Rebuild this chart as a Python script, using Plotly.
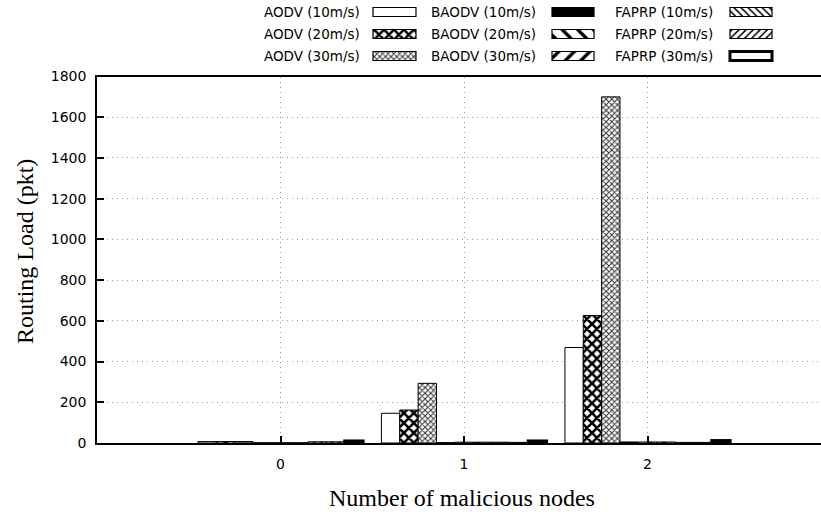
import plotly.graph_objects as go

# ---------------- data ----------------
groups = [0, 1, 2]
series_names = ["AODV (10m/s)", "AODV (20m/s)", "AODV (30m/s)",
                "BAODV (10m/s)", "BAODV (20m/s)", "BAODV (30m/s)",
                "FAPRP (10m/s)", "FAPRP (20m/s)", "FAPRP (30m/s)"]
aodv_10 = [7, 146, 469]
aodv_20 = [7, 162, 626]
aodv_30 = [7, 293, 1700]
baodv_10 = [1, 2, 5]
baodv_20 = [1, 4, 5]
baodv_30 = [1, 4, 5]
faprp_10 = [6, 4, 3]
faprp_20 = [6, 3, 3]
faprp_30 = [10, 10, 12]
series_values = [aodv_10, aodv_20, aodv_30, baodv_10, baodv_20, baodv_30,
                 faprp_10, faprp_20, faprp_30]
y_ticks = [0, 200, 400, 600, 800, 1000, 1200, 1400, 1600, 1800]
x_ticks = [0, 1, 2]

# ---------------- styles ----------------
W, H = 821, 512
ML, MB = 97, 69
PW, PH = W - ML, H - MB  # plot area (paper) in px


def px_x(px):
    return (px - ML) / PW


def px_y(py):
    return 1 - py / PH


def pat(shape="", size=8, solid=0.3, fg="black"):
    return dict(shape=shape, size=size, solidity=solid, fgcolor=fg,
                bgcolor="white", fillmode="replace")


styles = [
    dict(color="white", pattern=pat(), lw=1),
    dict(color="white", pattern=pat("x", 7, 0.6), lw=1),
    dict(color="white", pattern=pat("x", 4, 0.45, "#333333"), lw=1),
    dict(color="black", pattern=pat(), lw=1),
    dict(color="white", pattern=pat("\\", 11, 0.3), lw=1),
    dict(color="white", pattern=pat("/", 11, 0.3), lw=1),
    dict(color="white", pattern=pat("\\", 5, 0.3), lw=1),
    dict(color="white", pattern=pat("/", 5, 0.3), lw=1),
    dict(color="white", pattern=pat(), lw=3),
]

n = len(series_names)
bar_w = 0.1
fig = go.Figure()
for j, (name, vals, st) in enumerate(zip(series_names, series_values, styles)):
    fig.add_trace(go.Bar(
        x=groups, y=vals, name=name, width=bar_w,
        offset=-n * bar_w / 2 + j * bar_w,
        marker=dict(color=st["color"], pattern=st["pattern"],
                    line=dict(color="black", width=st["lw"])),
        showlegend=False, xaxis="x", yaxis="y"))

# ---------------- legend (text left, sample right, 3 columns) ----------------
col_text_right = [362, 538, 715]
col_box = [(373, 416), (552, 594), (730, 772)]
row_cy = [12, 34, 56]
box_h = 9
for j, (name, st) in enumerate(zip(series_names, styles)):
    c, r = j // 3, j % 3
    x0, x1 = col_box[c]
    cy = row_cy[r]
    fig.add_trace(go.Bar(
        x=[(x0 + x1) / 2], y=[box_h], base=[cy - box_h / 2], width=[x1 - x0],
        marker=dict(color=st["color"], pattern=st["pattern"],
                    line=dict(color="black", width=st["lw"] if st["lw"] > 1 else 1.2)),
        showlegend=False, hoverinfo="skip", xaxis="x2", yaxis="y2"))
    fig.add_annotation(text=name, xref="paper", yref="paper",
                       x=px_x(col_text_right[c]), y=px_y(cy),
                       xanchor="right", yanchor="middle", showarrow=False,
                       font=dict(family="DejaVu Sans", size=13.5, color="black"))

# axis titles
fig.add_annotation(text="Number of malicious nodes", xref="paper", yref="paper",
                   x=px_x(462), y=px_y(498), xanchor="center", yanchor="middle",
                   showarrow=False,
                   font=dict(family="Liberation Serif", size=24, color="black"))
fig.add_annotation(text="Routing Load (pkt)", xref="paper", yref="paper",
                   x=px_x(25), y=px_y(252), xanchor="center", yanchor="middle",
                   textangle=-90, showarrow=False,
                   font=dict(family="Liberation Serif", size=24, color="black"))

tickfont = dict(family="DejaVu Sans", size=14, color="black")
grid = dict(showgrid=True, gridcolor="#999999", griddash="1px,4px", gridwidth=1)
fig.update_layout(
    width=W, height=H,
    margin=dict(l=ML, r=0, t=0, b=MB, pad=0, autoexpand=False),
    paper_bgcolor="white", plot_bgcolor="white",
    barmode="overlay",
    xaxis=dict(domain=[0, 1], range=[-1, -1 + PW / 183.5],
               tickvals=x_ticks, ticktext=[str(v) for v in x_ticks],
               ticks="inside", ticklen=7, tickwidth=1.5, tickcolor="black",
               zeroline=False, showline=True, linecolor="black", linewidth=1.5,
               mirror=True, tickfont=tickfont, ticklabelstandoff=7,
               automargin=False, **grid),
    yaxis=dict(domain=[0, px_y(76.5)], range=[0, 1800],
               tickvals=y_ticks, ticks="inside", ticklen=7, tickwidth=1.5,
               tickcolor="black",
               zeroline=False, showline=True, linecolor="black", linewidth=1.5,
               tickfont=tickfont, ticklabelstandoff=6, automargin=False, **grid),
    xaxis2=dict(domain=[0, 1], anchor="y2", range=[ML, W], visible=False,
                fixedrange=True, automargin=False),
    yaxis2=dict(domain=[px_y(66), 1], anchor="x2", range=[66, 0], visible=False,
                fixedrange=True, automargin=False),
)

fig.write_html("out.html")
